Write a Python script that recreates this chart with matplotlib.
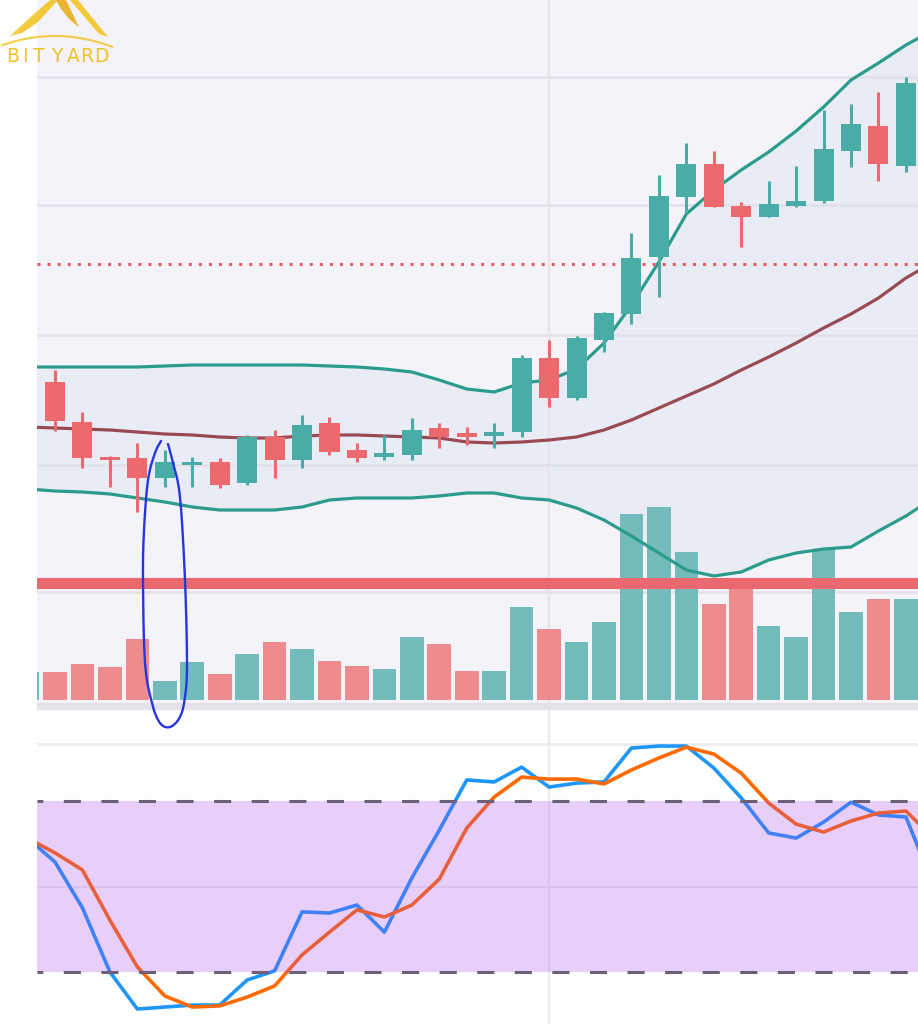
import numpy as np
import matplotlib.pyplot as plt
from matplotlib.patches import Rectangle, Polygon
from matplotlib.lines import Line2D

W, H = 918, 1024

# candles, index 0..31 (price units)
opens  = [33.8, 29.8, 26.3, 26.2, 24.2, 25.5, 25.8, 23.7, 28.3, 26.0, 29.7, 27.0, 26.3, 26.5, 29.2, 28.7,
          28.4, 28.8, 36.2, 32.2, 38.0, 40.6, 46.3, 52.3, 55.6, 51.4, 50.3, 51.4, 51.9, 56.9, 59.4, 55.4]
highs  = [35.0, 30.8, 26.4, 27.7, 27.0, 26.3, 26.2, 28.5, 29.0, 30.5, 30.3, 27.7, 28.5, 30.2, 29.7, 29.3,
          29.7, 36.5, 38.0, 38.4, 40.8, 48.7, 54.5, 57.7, 56.9, 51.8, 53.9, 55.4, 61.0, 61.6, 62.8, 64.3]
lows   = [28.9, 25.2, 23.3, 20.8, 23.3, 23.3, 23.2, 23.5, 24.2, 25.2, 26.5, 25.8, 26.0, 26.0, 27.2, 27.5,
          27.2, 28.3, 31.3, 32.0, 36.8, 39.6, 42.3, 50.7, 51.3, 47.3, 50.3, 51.3, 51.7, 55.3, 53.9, 54.8]
closes = [29.9, 26.2, 26.0, 24.2, 25.8, 25.8, 23.5, 28.3, 26.0, 29.5, 26.8, 26.2, 26.7, 29.0, 28.3, 28.3,
          28.8, 36.2, 32.2, 38.2, 40.7, 46.2, 52.4, 55.6, 51.3, 50.3, 51.6, 51.9, 57.1, 59.6, 55.6, 63.7]

# volume, index -1..31
volume = [2.8, 2.8, 3.6, 3.3, 6.1, 1.9, 3.8, 2.6, 4.6, 5.8, 5.1, 3.9, 3.4, 3.1, 6.3, 5.6, 2.9,
          2.9, 9.3, 7.1, 5.8, 7.8, 18.6, 19.3, 14.8, 9.6, 11.4, 7.4, 6.3, 15.1, 8.8, 10.1, 10.1]

# bollinger bands, index -1..32
bb_upper = [35.3, 35.3, 35.3, 35.3, 35.3, 35.4, 35.5, 35.5, 35.5, 35.5, 35.5, 35.4, 35.3, 35.1, 34.8, 34.0, 33.1,
            32.8, 33.7, 34.0, 35.1, 37.7, 41.5, 45.8, 50.6, 53.0, 55.0, 56.8, 58.9, 61.3, 64.0, 65.7, 67.5, 69.0]
bb_mid   = [29.3, 29.2, 29.1, 29.0, 28.8, 28.6, 28.5, 28.3, 28.2, 28.2, 28.4, 28.5, 28.5, 28.4, 28.3, 28.2, 27.8,
            27.7, 27.8, 28.0, 28.3, 29.0, 30.0, 31.2, 32.4, 33.6, 35.0, 36.3, 37.7, 39.2, 40.6, 42.2, 44.2, 45.8]
bb_lower = [23.1, 22.9, 22.8, 22.6, 22.2, 21.8, 21.3, 21.0, 21.0, 21.0, 21.3, 22.0, 22.2, 22.2, 22.2, 22.4, 22.7,
            22.7, 22.2, 22.0, 21.2, 20.0, 18.4, 16.7, 15.0, 14.4, 14.8, 16.0, 16.7, 17.1, 17.3, 18.9, 20.4, 22.2]

# stochastic rsi, index -1..32
stoch_k = [67.0, 58.6, 42.5, 20.0, 7.0, 7.7, 8.4, 8.4, 17.2, 20.4, 41.1, 40.7, 43.5, 34.0, 53.0, 69.8, 87.4,
           86.7, 91.9, 84.9, 86.3, 86.7, 98.6, 99.3, 99.3, 91.6, 81.1, 68.8, 67.0, 72.6, 79.6, 75.1, 74.4, 50.5]
stoch_d = [67.0, 61.8, 55.8, 38.2, 21.8, 11.6, 7.7, 8.1, 11.2, 15.1, 26.0, 34.0, 41.8, 39.3, 43.5, 52.6, 70.5,
           81.4, 88.4, 87.7, 87.7, 86.0, 90.9, 95.1, 98.9, 96.5, 89.8, 79.3, 71.9, 69.1, 73.0, 75.8, 76.5, 67.0]

level_dotted = 45.6
level_thick = 13.7
price_grid = [12.8, 25.5, 38.5, 51.5, 64.3]
cursor_x = 18

UP = '#4aaca6'
DOWN = '#ec6a6e'
VOL_UP = '#74bcbc'
VOL_DOWN = '#ee8b8e'
BAND = '#2b9c8c'

xc = np.arange(len(opens))
xv = np.arange(-1, len(volume) - 1)
xb = np.arange(-1, len(bb_upper) - 1)
xlim = (-0.656, 31.44)

fig = plt.figure(figsize=(W / 100, H / 100), dpi=100)
fig.patch.set_facecolor('white')

rect = [37 / W, 1 - 703 / H, 1 - 37 / W, 703 / H]
ax = fig.add_axes(rect, label='bg')
axv = fig.add_axes(rect, label='vol')
axp = fig.add_axes(rect, label='price')
ax.set_facecolor('#f5f3fa')
for a in (axv, axp):
    a.patch.set_visible(False)
    a.set_axis_off()
ax.set_zorder(0); axv.set_zorder(1); axp.set_zorder(2)
for a in (ax, axv, axp):
    a.set_xlim(*xlim)
ax.set_ylim(1.7, 72.0)
axp.set_ylim(1.7, 72.0)
axv.set_ylim(-0.3, 70.0)
ax.set_xticks([]); ax.set_yticks([])
for s in ax.spines.values():
    s.set_visible(False)

# background layer
ax.fill_between(xb, bb_lower, bb_upper, color='#e9ecf5', lw=0, zorder=1)
for g in price_grid:
    ax.axhline(g, color='#e3e0e9', lw=1.8, zorder=2)
ax.axvline(cursor_x, color='#e6e3ea', lw=1.6, zorder=2)

# volume layer
up = [True] + [c >= o for o, c in zip(opens, closes)]
axv.bar(xv, volume, width=0.86, color=[VOL_UP if u else VOL_DOWN for u in up], lw=0)

# price layer
axp.plot(xb, bb_upper, color=BAND, lw=2.3, zorder=2)
axp.plot(xb, bb_lower, color=BAND, lw=2.3, zorder=2)
axp.plot(xb, bb_mid, color='#9a4a52', lw=2.3, zorder=2)
axp.axhline(level_thick, color='#ea6870', lw=8, zorder=3)
axp.axhline(level_dotted, color='#e85d63', lw=2.2, ls=(0, (1, 2.3)), zorder=3)
ccol = [UP if c >= o else DOWN for o, c in zip(opens, closes)]
axp.vlines(xc, lows, highs, colors=ccol, lw=2.2, zorder=4)
bodies = [max(abs(c - o), 0.3) for o, c in zip(opens, closes)]
bottoms = [min(o, c) for o, c in zip(opens, closes)]
axp.bar(xc, bodies, bottom=bottoms, width=0.73, color=ccol, lw=0, zorder=5)

# separator strip
fig.add_artist(Rectangle((37 / W, 1 - 709 / H), 1 - 37 / W, 6 / H, transform=fig.transFigure,
                         color='#e4e2e8', zorder=5))

# stochastic rsi panel
ax2 = fig.add_axes([37 / W, 0, 1 - 37 / W, 315 / H])
ax2.set_xlim(*xlim)
ax2.set_ylim(1.75, 112.3)
ax2.set_axis_off()
ax2.axhline(100, color='#ececf0', lw=2, zorder=1)
ax2.axhline(50, color='#ececf0', lw=1.5, zorder=1)
ax2.axvline(cursor_x, color='#ececf0', lw=1.6, zorder=1)
ax2.plot(xb, stoch_k, color='#1e96fa', lw=2.6, zorder=2)
ax2.plot(xb, stoch_d, color='#ff6a00', lw=2.6, zorder=2)
ax2.axhspan(20, 80, color=(167 / 255, 67 / 255, 239 / 255), alpha=0.25, lw=0, zorder=3)
for lv in (20, 80):
    ax2.axhline(lv, color='#6e5f78', lw=2.2, ls=(3.7, (5.6, 6.7)), zorder=4)


def px(pts):
    return [(x / W, 1 - y / H) for x, y in pts]


# hand-drawn ellipse
loop = np.array([(161, 441), (155, 453), (148, 480), (144, 530), (143, 580), (145, 663), (152, 703),
                 (160, 723), (170, 727), (180, 717), (185, 697), (187, 663), (185, 580), (180, 497),
                 (173, 463), (168, 444)], float)
pad = np.vstack([loop[0], loop, loop[-1]])
t = np.linspace(0, 1, 12)[:, None]
curve = []
for i in range(1, len(pad) - 2):
    p0, p1, p2, p3 = pad[i - 1], pad[i], pad[i + 1], pad[i + 2]
    curve.append(0.5 * (2 * p1 + (-p0 + p2) * t + (2 * p0 - 5 * p1 + 4 * p2 - p3) * t ** 2
                        + (-p0 + 3 * p1 - 3 * p2 + p3) * t ** 3))
curve = np.vstack(curve)
fc = np.array(px(curve))
fig.add_artist(Line2D(fc[:, 0], fc[:, 1], transform=fig.transFigure, color='#2536e0', lw=1.7,
                      solid_capstyle='round', zorder=10))

# logo
gold = '#f1c526'
for poly, col in [([(10, 36), (34, 14), (50, 0), (58, 0), (38, 22), (22, 33)], gold),
                  ([(56, 0), (66, 0), (79, 27), (70, 20), (61, 9)], '#e9ae1e'),
                  ([(70, 0), (78, 0), (108, 37), (99, 34)], gold)]:
    fig.add_artist(Polygon(px(poly), closed=True, transform=fig.transFigure, color=col, alpha=0.9,
                           lw=0, zorder=10))
ax_x = np.linspace(2, 112, 40)
arc = np.column_stack([ax_x, 36 + 10 * ((ax_x - 55) / 55) ** 2])
fa = np.array(px(arc))
fig.add_artist(Line2D(fa[:, 0], fa[:, 1], transform=fig.transFigure, color=gold, lw=1.6, alpha=0.8, zorder=10))
for ch, x in zip('BITYARD', [12.5, 25, 38.5, 56.5, 73.5, 87, 101]):
    fig.text(x / W, 1 - 56 / H, ch, color='#efc22a', fontsize=13.5, ha='center', va='center',
             family='DejaVu Sans', zorder=11)

fig.savefig('out.png', dpi=100)
